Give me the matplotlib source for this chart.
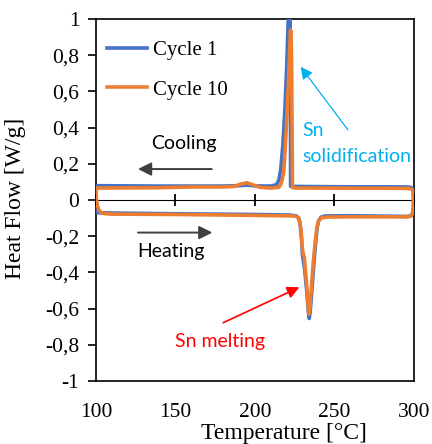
import numpy as np
import matplotlib.pyplot as plt

# DSC loop data: heating branch then cooling branch
c1_heat_T = [100.4, 101, 110, 150, 200, 222, 226, 227.5, 228.5, 229.3, 229.8, 230.3, 231.2,
             232.5, 233.5, 234.1, 234.7, 235.6, 236.8, 238, 239, 240, 241.5, 244, 260, 280,
             296, 298.3, 299.2, 299.6]
c1_heat_q = [-0.060, -0.070, -0.072, -0.076, -0.080, -0.083, -0.088, -0.10, -0.14, -0.22, -0.30,
             -0.33, -0.38, -0.50, -0.61, -0.655, -0.62, -0.52, -0.38, -0.25, -0.16, -0.115,
             -0.095, -0.088, -0.087, -0.089, -0.091, -0.086, -0.07, -0.04]
c1_cool_T = [299.7, 299.6, 299.1, 298, 295, 280, 260, 240, 225, 222.4, 222.3, 222.1, 221.7,
             221.2, 220.9, 220.0, 218.8, 217.5, 216.2, 215, 213.5, 210, 200, 195, 190, 180,
             160, 140, 120, 101, 100.4]
c1_cool_q = [0.0, 0.04, 0.062, 0.070, 0.072, 0.073, 0.073, 0.074, 0.075, 0.076, 0.50, 1.0,
             1.08, 1.05, 1.0, 0.75, 0.50, 0.30, 0.17, 0.11, 0.085, 0.077, 0.078, 0.082, 0.079,
             0.077, 0.077, 0.077, 0.078, 0.079, 0.079]

c10_heat_T = [100, 100.3, 101, 102, 103.5, 106, 110, 150, 200, 224, 226.5, 228, 229, 229.8,
              230.4, 231, 232.5, 233.4, 233.9, 234.5, 235.5, 236.8, 238, 239, 240, 242, 246,
              260, 280, 296, 298.3, 299.2, 299.6]
c10_heat_q = [0.05, 0.0, -0.035, -0.058, -0.071, -0.076, -0.078, -0.080, -0.085, -0.088, -0.092,
              -0.11, -0.17, -0.27, -0.30, -0.315, -0.47, -0.58, -0.63, -0.60, -0.48, -0.33,
              -0.22, -0.15, -0.115, -0.098, -0.094, -0.093, -0.093, -0.093, -0.088, -0.07, -0.04]
c10_cool_T = [299.7, 299.6, 299.1, 298, 295, 280, 260, 240, 226, 223.6, 223.4, 223.1, 222.7,
              222.3, 221.7, 220.3, 219, 218, 216.5, 215, 210, 203, 199, 195, 191, 187, 180,
              160, 140, 120, 101, 100.2, 100]
c10_cool_q = [0.0, 0.035, 0.055, 0.062, 0.064, 0.065, 0.065, 0.066, 0.066, 0.068, 0.30, 0.70,
              0.93, 0.94, 0.80, 0.50, 0.28, 0.15, 0.09, 0.070, 0.066, 0.070, 0.083, 0.095,
              0.088, 0.075, 0.072, 0.072, 0.068, 0.067, 0.066, 0.066, 0.05]

x_ticks = [100, 150, 200, 250, 300]
y_ticks = [1, 0.8, 0.6, 0.4, 0.2, 0, -0.2, -0.4, -0.6, -0.8, -1]
y_labels = ['1', '0,8', '0,6', '0,4', '0,2', '0', '-0,2', '-0,4', '-0,6', '-0,8', '-1']

blue = '#4472C4'
orange = '#ED7D31'
serif = 'Liberation Serif'
sans = 'Lato'

fig = plt.figure(figsize=(4.32, 4.44), dpi=100)
ax = fig.add_axes([0.2222, 0.1419, 0.7361, 0.8153])

ax.plot(c1_heat_T + c1_cool_T, c1_heat_q + c1_cool_q, color=blue, lw=2.6, label='Cycle 1',
        solid_joinstyle='round', zorder=3)
ax.plot(c10_heat_T + c10_cool_T, c10_heat_q + c10_cool_q, color=orange, lw=2.6,
        label='Cycle 10', solid_joinstyle='round', zorder=4)

ax.set_xlim(100, 300)
ax.set_ylim(-1, 1)
ax.set_xticks(x_ticks)
ax.set_xticklabels([str(t) for t in x_ticks], fontfamily=serif, fontsize=15.5)
ax.set_yticks(y_ticks)
ax.set_yticklabels(y_labels, fontfamily=serif, fontsize=15.5)
ax.tick_params(axis='x', length=0, pad=16)
ax.tick_params(axis='y', length=6, width=1.2, direction='out', pad=6)
for s in ax.spines.values():
    s.set_linewidth(1.2)
    s.set_color('black')

# zero line with crossing ticks
zero = ax.secondary_xaxis(0.5)
zero.set_xticks(x_ticks)
zero.tick_params(direction='inout', length=9, width=1.3, labelbottom=False, labeltop=False)
zero.spines['bottom'].set_linewidth(1.6)
zero.spines['bottom'].set_zorder(5)

ax.set_xlabel('Temperature [°C]', fontfamily=serif, fontsize=17)
ax.xaxis.set_label_coords(0.59, -0.115)
ax.set_ylabel('Heat Flow [W/g]', fontfamily=serif, fontsize=17)
ax.yaxis.set_label_coords(-0.22, 0.505)

ax.legend(loc='upper left', bbox_to_anchor=(0.034, 0.94), frameon=False, borderaxespad=0,
          borderpad=0, handlelength=1.92, handletextpad=0.3, labelspacing=0.95,
          prop={'family': serif, 'size': 15})

# annotations
ax.text(155, 0.282, 'Cooling', ha='center', va='baseline', fontfamily=sans, fontsize=14)
ax.annotate('', xy=(126.4, 0.171), xytext=(172.8, 0.171),
            arrowprops=dict(arrowstyle='-|>', color='#404040', lw=1.4, mutation_scale=20,
                            shrinkA=0, shrinkB=0, facecolor='black'))
ax.text(147.2, -0.315, 'Heating', ha='center', va='baseline', fontfamily=sans, fontsize=14)
ax.annotate('', xy=(173.2, -0.18), xytext=(126.4, -0.18),
            arrowprops=dict(arrowstyle='-|>', color='#404040', lw=1.4, mutation_scale=20,
                            shrinkA=0, shrinkB=0, facecolor='black'))

ax.text(230, 0.354, 'Sn', ha='left', va='baseline', fontfamily=sans, fontsize=14,
        color='#00B0F0')
ax.text(230, 0.212, 'solidification', ha='left', va='baseline', fontfamily=sans, fontsize=14,
        color='#00B0F0')
ax.annotate('', xy=(228.7, 0.736), xytext=(258.5, 0.387),
            arrowprops=dict(arrowstyle='-|>', color='#00B0F0', lw=0.9, mutation_scale=18,
                            shrinkA=0, shrinkB=0))

ax.text(178, -0.812, 'Sn melting', ha='center', va='baseline', fontfamily=sans, fontsize=14,
        color='#FF0000')
ax.annotate('', xy=(227.9, -0.482), xytext=(180, -0.678),
            arrowprops=dict(arrowstyle='-|>', color='#FF0000', lw=1.2, mutation_scale=18,
                            shrinkA=0, shrinkB=0))

fig.savefig('out.png', dpi=100)
